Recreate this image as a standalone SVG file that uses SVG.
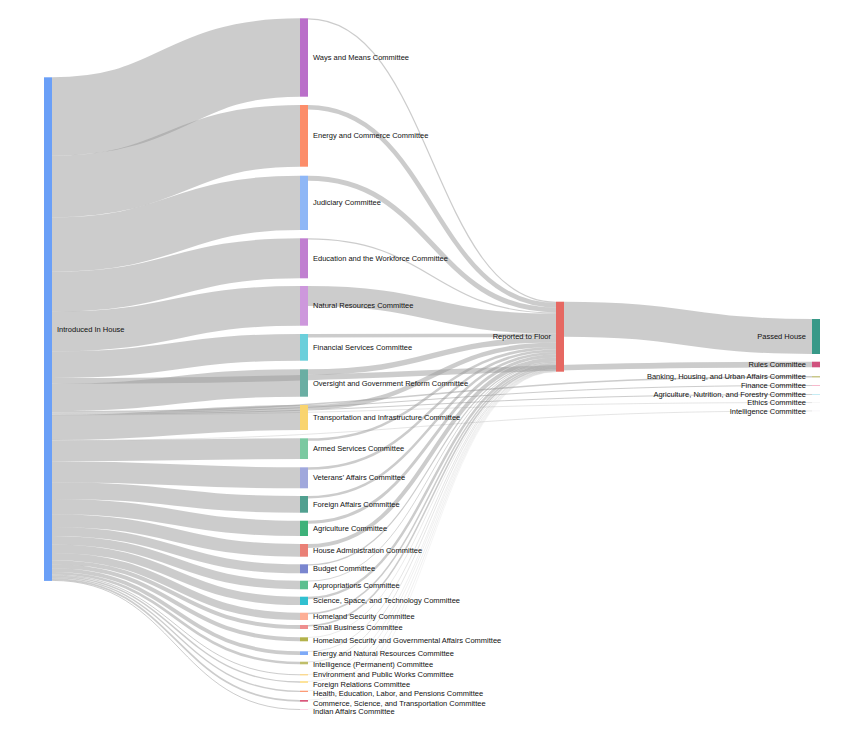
<svg xmlns="http://www.w3.org/2000/svg" width="859" height="736" viewBox="0 0 859 736">
<style>
.link{fill:none;stroke:#999;stroke-opacity:0.5}
text{font-family:"Liberation Sans",Arial,sans-serif;font-size:7.5px;fill:#111}
.r{text-anchor:end}
</style>
<rect width="859" height="736" fill="#fff"/>
<g id="links">
<path class="link" stroke-width="78.4" d="M52,116.5C176,116.5 176,57.5 300,57.5"/>
<path class="link" stroke-width="61.7" d="M52,186.55C176,186.55 176,135.85 300,135.85"/>
<path class="link" stroke-width="54.3" d="M52,244.55C176,244.55 176,202.85 300,202.85"/>
<path class="link" stroke-width="40" d="M52,291.7C176,291.7 176,258.3 300,258.3"/>
<path class="link" stroke-width="39.7" d="M52,331.55C176,331.55 176,305.85 300,305.85"/>
<path class="link" stroke-width="26.7" d="M52,364.75C176,364.75 176,347.35 300,347.35"/>
<path class="link" stroke-width="5.6" d="M52,380.9C432,380.9 432,364.5 812,364.5"/>
<path class="link" stroke-width="27.4" d="M52,397.4C176,397.4 176,383 300,383"/>
<path class="link" stroke-width="1.5" d="M52,411.85C432,411.85 432,376.75 812,376.75"/>
<path class="link" stroke-width="1" d="M52,413.1C432,413.1 432,385.5 812,385.5"/>
<path class="link" stroke-width="1" d="M52,414.1C432,414.1 432,394.5 812,394.5"/>
<path class="link" stroke-width="0.5" d="M52,414.85C432,414.85 432,402.55 812,402.55"/>
<path class="link" stroke-width="25" d="M52,427.6C176,427.6 176,417.5 300,417.5"/>
<path class="link" stroke-width="0.5" d="M52,440.35C432,440.35 432,410.95 812,410.95"/>
<path class="link" stroke-width="20.7" d="M52,450.95C176,450.95 176,448.65 300,448.65"/>
<path class="link" stroke-width="21" d="M52,471.8C176,471.8 176,477.8 300,477.8"/>
<path class="link" stroke-width="16.7" d="M52,490.65C176,490.65 176,504.35 300,504.35"/>
<path class="link" stroke-width="15.3" d="M52,506.65C176,506.65 176,528.35 300,528.35"/>
<path class="link" stroke-width="12.7" d="M52,520.65C176,520.65 176,550.35 300,550.35"/>
<path class="link" stroke-width="9" d="M52,531.5C176,531.5 176,568.8 300,568.8"/>
<path class="link" stroke-width="8.6" d="M52,540.3C176,540.3 176,585 300,585"/>
<path class="link" stroke-width="8.3" d="M52,548.75C176,548.75 176,600.85 300,600.85"/>
<path class="link" stroke-width="7.3" d="M52,556.55C176,556.55 176,616.35 300,616.35"/>
<path class="link" stroke-width="4" d="M52,562.2C176,562.2 176,627 300,627"/>
<path class="link" stroke-width="4" d="M52,566.2C176,566.2 176,639.3 300,639.3"/>
<path class="link" stroke-width="3.7" d="M52,570.05C176,570.05 176,653.15 300,653.15"/>
<path class="link" stroke-width="2.6" d="M52,573.2C176,573.2 176,663 300,663"/>
<path class="link" stroke-width="1" d="M52,575C176,575 176,674.8 300,674.8"/>
<path class="link" stroke-width="1.4" d="M52,576.2C176,576.2 176,682 300,682"/>
<path class="link" stroke-width="1.3" d="M52,577.55C176,577.55 176,691.35 300,691.35"/>
<path class="link" stroke-width="1.7" d="M52,579.05C176,579.05 176,700.85 300,700.85"/>
<path class="link" stroke-width="1" d="M52,580.4C176,580.4 176,709.5 300,709.5"/>
<path class="link" stroke-width="1.2" d="M308,18.9C432,18.9 432,302.3 556,302.3"/>
<path class="link" stroke-width="4.5" d="M308,107.25C432,107.25 432,305.15 556,305.15"/>
<path class="link" stroke-width="5" d="M308,178.2C432,178.2 432,309.9 556,309.9"/>
<path class="link" stroke-width="1.2" d="M308,238.9C432,238.9 432,313 556,313"/>
<path class="link" stroke-width="20" d="M308,296C432,296 432,323.6 556,323.6"/>
<path class="link" stroke-width="3.5" d="M308,335.75C432,335.75 432,335.35 556,335.35"/>
<path class="link" stroke-width="5.5" d="M308,372.05C432,372.05 432,339.85 556,339.85"/>
<path class="link" stroke-width="4.5" d="M308,407.25C432,407.25 432,344.85 556,344.85"/>
<path class="link" stroke-width="2.5" d="M308,439.55C432,439.55 432,348.35 556,348.35"/>
<path class="link" stroke-width="2.5" d="M308,468.55C432,468.55 432,350.85 556,350.85"/>
<path class="link" stroke-width="2.5" d="M308,497.25C432,497.25 432,353.35 556,353.35"/>
<path class="link" stroke-width="3" d="M308,522.2C432,522.2 432,356.1 556,356.1"/>
<path class="link" stroke-width="4" d="M308,546C432,546 432,359.6 556,359.6"/>
<path class="link" stroke-width="1.2" d="M308,564.9C432,564.9 432,362.2 556,362.2"/>
<path class="link" stroke-width="0.8" d="M308,581.1C432,581.1 432,363.2 556,363.2"/>
<path class="link" stroke-width="2.5" d="M308,597.95C432,597.95 432,364.85 556,364.85"/>
<path class="link" stroke-width="1.5" d="M308,613.45C432,613.45 432,366.85 556,366.85"/>
<path class="link" stroke-width="1.5" d="M308,625.75C432,625.75 432,368.35 556,368.35"/>
<path class="link" stroke-width="0.4" d="M308,637.5C432,637.5 432,369.3 556,369.3"/>
<path class="link" stroke-width="0.5" d="M308,651.55C432,651.55 432,369.75 556,369.75"/>
<path class="link" stroke-width="0.5" d="M308,661.95C432,661.95 432,370.25 556,370.25"/>
<path class="link" stroke-width="0.3" d="M308,674.45C432,674.45 432,370.65 556,370.65"/>
<path class="link" stroke-width="0.3" d="M308,681.45C432,681.45 432,370.95 556,370.95"/>
<path class="link" stroke-width="0.3" d="M308,690.85C432,690.85 432,371.25 556,371.25"/>
<path class="link" stroke-width="0.3" d="M308,700.15C432,700.15 432,371.55 556,371.55"/>
<path class="link" stroke-width="0.2" d="M308,709.1C432,709.1 432,371.8 556,371.8"/>
<path class="link" stroke-width="35" d="M564,319.2C688,319.2 688,336.5 812,336.5"/>
</g>
<g id="introduced"><rect x="44" y="77.3" width="8" height="503.6" fill="#6a9ff7"/><text x="57" y="329.1" dy=".35em">Introduced In House</text></g>
<g id="ways"><rect x="300" y="18.3" width="8" height="78.4" fill="#ba6fc9"/><text x="313" y="57.5" dy=".35em">Ways and Means Committee</text></g>
<g id="energy"><rect x="300" y="105" width="8" height="61.7" fill="#fc8d6a"/><text x="313" y="135.85" dy=".35em">Energy and Commerce Committee</text></g>
<g id="judiciary"><rect x="300" y="175.7" width="8" height="54.3" fill="#8fb7f6"/><text x="313" y="202.85" dy=".35em">Judiciary Committee</text></g>
<g id="education"><rect x="300" y="238.3" width="8" height="40" fill="#c07fd0"/><text x="313" y="258.3" dy=".35em">Education and the Workforce Committee</text></g>
<g id="natres"><rect x="300" y="286" width="8" height="39.7" fill="#cd98dc"/><text x="313" y="305.85" dy=".35em">Natural Resources Committee</text></g>
<g id="finserv"><rect x="300" y="334" width="8" height="26.7" fill="#6bcfdb"/><text x="313" y="347.35" dy=".35em">Financial Services Committee</text></g>
<g id="oversight"><rect x="300" y="369.3" width="8" height="27.4" fill="#6aaea3"/><text x="313" y="383" dy=".35em">Oversight and Government Reform Committee</text></g>
<g id="transport"><rect x="300" y="405" width="8" height="25" fill="#f9d46f"/><text x="313" y="417.5" dy=".35em">Transportation and Infrastructure Committee</text></g>
<g id="armed"><rect x="300" y="438.3" width="8" height="20.7" fill="#7bc9a1"/><text x="313" y="448.65" dy=".35em">Armed Services Committee</text></g>
<g id="veterans"><rect x="300" y="467.3" width="8" height="21" fill="#a0a8dc"/><text x="313" y="477.8" dy=".35em">Veterans’ Affairs Committee</text></g>
<g id="foreign"><rect x="300" y="496" width="8" height="16.7" fill="#51a090"/><text x="313" y="504.35" dy=".35em">Foreign Affairs Committee</text></g>
<g id="agriculture"><rect x="300" y="520.7" width="8" height="15.3" fill="#3eb27a"/><text x="313" y="528.35" dy=".35em">Agriculture Committee</text></g>
<g id="houseadmin"><rect x="300" y="544" width="8" height="12.7" fill="#ea8076"/><text x="313" y="550.35" dy=".35em">House Administration Committee</text></g>
<g id="budget"><rect x="300" y="564.3" width="8" height="9" fill="#7a86cf"/><text x="313" y="568.8" dy=".35em">Budget Committee</text></g>
<g id="approps"><rect x="300" y="580.7" width="8" height="8.6" fill="#5cbf8f"/><text x="313" y="585" dy=".35em">Appropriations Committee</text></g>
<g id="science"><rect x="300" y="596.7" width="8" height="8.3" fill="#31c0d0"/><text x="313" y="600.85" dy=".35em">Science, Space, and Technology Committee</text></g>
<g id="homeland"><rect x="300" y="612.7" width="8" height="7.3" fill="#fdae95"/><text x="313" y="616.35" dy=".35em">Homeland Security Committee</text></g>
<g id="smallbiz"><rect x="300" y="625" width="8" height="4" fill="#ee8e8e"/><text x="313" y="627.5" dy=".35em">Small Business Committee</text></g>
<g id="hsgac"><rect x="300" y="637.3" width="8" height="4" fill="#b3b24b"/><text x="313" y="640.5" dy=".35em">Homeland Security and Governmental Affairs Committee</text></g>
<g id="enr"><rect x="300" y="651.3" width="8" height="3.7" fill="#7eaaf7"/><text x="313" y="653.5" dy=".35em">Energy and Natural Resources Committee</text></g>
<g id="intelp"><rect x="300" y="661.7" width="8" height="2.6" fill="#bfbe69"/><text x="313" y="664" dy=".35em">Intelligence (Permanent) Committee</text></g>
<g id="epw"><rect x="300" y="674.3" width="8" height="1" fill="#f8c964"/><text x="313" y="674.8" dy=".35em">Environment and Public Works Committee</text></g>
<g id="forrel"><rect x="300" y="681.3" width="8" height="1.4" fill="#fdd870"/><text x="313" y="684" dy=".35em">Foreign Relations Committee</text></g>
<g id="help"><rect x="300" y="690.7" width="8" height="1.3" fill="#fc9b76"/><text x="313" y="693.5" dy=".35em">Health, Education, Labor, and Pensions Committee</text></g>
<g id="commerce"><rect x="300" y="700" width="8" height="1.7" fill="#d9567b"/><text x="313" y="703" dy=".35em">Commerce, Science, and Transportation Committee</text></g>
<g id="indian"><rect x="300" y="709" width="8" height="1" fill="#fcd6e6"/><text x="313" y="711.5" dy=".35em">Indian Affairs Committee</text></g>
<g id="reported"><rect x="556" y="301.7" width="8" height="70" fill="#e66862"/><text class="r" x="551" y="336.7" dy=".35em">Reported to Floor</text></g>
<g id="passed"><rect x="812" y="319" width="8" height="35" fill="#389988"/><text class="r" x="806" y="336.5" dy=".35em">Passed House</text></g>
<g id="rules"><rect x="812" y="361.7" width="8" height="5.6" fill="#d0527e"/><text class="r" x="806" y="364.5" dy=".35em">Rules Committee</text></g>
<g id="banking"><rect x="812" y="376" width="8" height="1.5" fill="#c9c88a"/><text class="r" x="806" y="376.75" dy=".35em">Banking, Housing, and Urban Affairs Committee</text></g>
<g id="finance"><rect x="812" y="385" width="8" height="1" fill="#f7b9cc"/><text class="r" x="806" y="385.5" dy=".35em">Finance Committee</text></g>
<g id="agnutr"><rect x="812" y="394" width="8" height="1" fill="#c6ecf4"/><text class="r" x="806" y="394.5" dy=".35em">Agriculture, Nutrition, and Forestry Committee</text></g>
<g id="ethics"><rect x="812" y="402.3" width="8" height="0.5" fill="#eeeeee"/><text class="r" x="806" y="402.8" dy=".35em">Ethics Committee</text></g>
<g id="intelligence"><rect x="812" y="410.7" width="8" height="0.5" fill="#f2eef4"/><text class="r" x="806" y="411.2" dy=".35em">Intelligence Committee</text></g>
</svg>
